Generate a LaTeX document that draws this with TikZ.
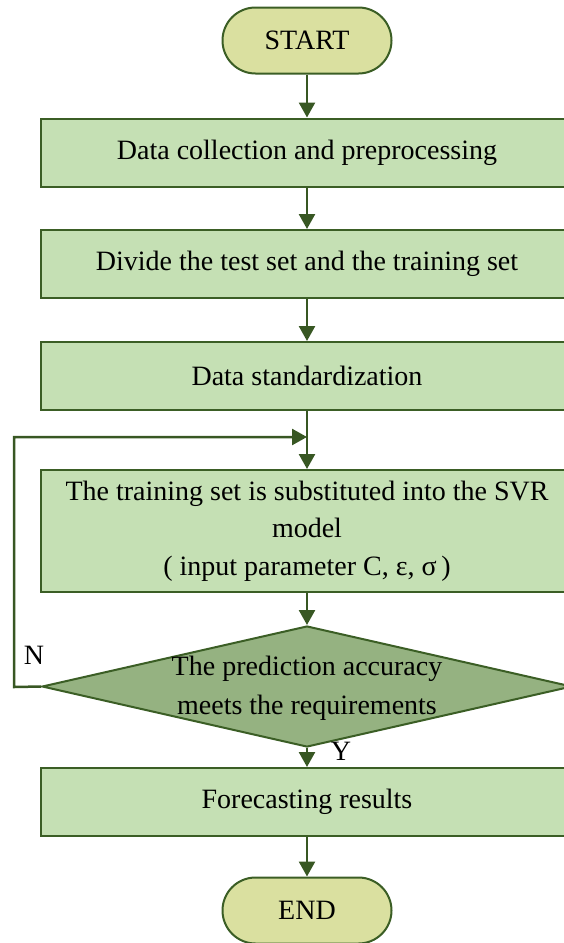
\documentclass[tikz,border=0pt]{standalone}
\usepackage{fontspec}
\setmainfont{Liberation Serif}
\usetikzlibrary{shapes.geometric,arrows.meta}
\definecolor{boxfill}{HTML}{C5E0B4}
\definecolor{termfill}{HTML}{DAE0A0}
\definecolor{decfill}{HTML}{95B281}
\definecolor{edge}{HTML}{3B5E25}
\definecolor{arr}{HTML}{385723}
\tikzset{
  procbox/.style={draw=edge, line width=2pt, fill=boxfill, minimum width=532pt, minimum height=68pt, inner sep=0pt, align=center, font=\fontsize{28}{37.5}\selectfont},
  termbox/.style={draw=edge, line width=2pt, fill=termfill, minimum width=169pt, minimum height=66pt, rounded corners=33pt, inner sep=0pt, font=\fontsize{28}{37.5}\selectfont},
  decbox/.style={draw=edge, line width=2pt, fill=decfill, diamond, aspect=4.38, minimum width=530pt, minimum height=121pt, inner sep=0pt},
  txt/.style={align=center, inner sep=0pt, font=\fontsize{28}{39}\selectfont},
  flow/.style={draw=arr, line width=2.5pt, -{Triangle[width=16pt,length=15pt]}},
  plainline/.style={draw=arr, line width=2.5pt}
}
\begin{document}
\begin{tikzpicture}[x=1pt,y=-1pt]
\useasboundingbox (0,0) rectangle (563,943);
\node[termbox] (start) at (307,40.5) {START};
\node[procbox] (b1) at (307,152.5) {Data collection and preprocessing};
\node[procbox] (b2) at (307,264) {Divide the test set and the training set};
\node[procbox] (b3) at (307,376) {Data standardization};
\node[procbox, minimum height=122pt] (b4) at (307,531) {The training set is substituted into the SVR\\model\\( input parameter C, ε, σ\,)};
\node[decbox] (dec) at (307,686.5) {};
\node[txt] (dectext) at (307,688) {The prediction accuracy\\meets the requirements};
\node[procbox] (b5) at (307,802) {Forecasting results};
\node[termbox] (end) at (307,910.5) {END};
\coordinate (join) at (307,437);
\coordinate (lb) at (14,687);
\coordinate (lt) at (14,437);
\node[txt] (nlab) at (34,655) {N};
\node[txt] (ylab) at (341,751) {Y};
\draw[flow] (start) -- (b1);
\draw[flow] (b1) -- (b2);
\draw[flow] (b2) -- (b3);
\draw[flow] (b3) -- (b4);
\draw[flow] (b4) -- (dec.north);
\draw[flow] (dec.south) -- (b5);
\draw[flow] (b5) -- (end);
\draw[plainline, -{Triangle[width=16pt,length=15pt]}] (dec.west) -- (lb) -- (lt) -- (join);
\end{tikzpicture}
\end{document}
